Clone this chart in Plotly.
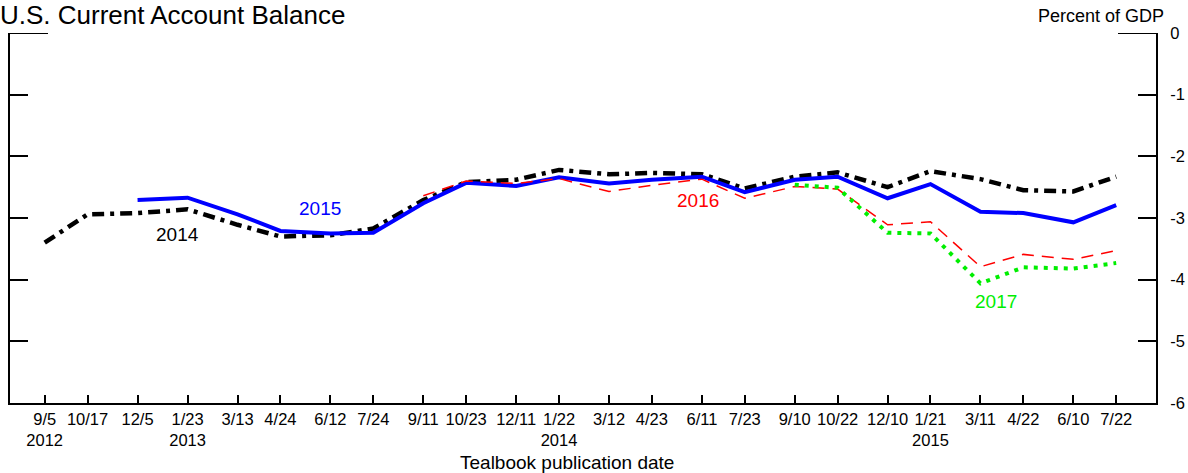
import plotly.graph_objects as go

# Tealbook publication dates
dates = ["2012-09-05", "2012-10-17", "2012-12-05", "2013-01-23", "2013-03-13", "2013-04-24",
         "2013-06-12", "2013-07-24", "2013-09-11", "2013-10-23", "2013-12-11", "2014-01-22",
         "2014-03-12", "2014-04-23", "2014-06-11", "2014-07-23", "2014-09-10", "2014-10-22",
         "2014-12-10", "2015-01-21", "2015-03-11", "2015-04-22", "2015-06-10", "2015-07-22"]
tick_labels = ["9/5<br>2012", "10/17", "12/5", "1/23<br>2013", "3/13", "4/24", "6/12", "7/24",
               "9/11", "10/23", "12/11", "1/22<br>2014", "3/12", "4/23", "6/11", "7/23",
               "9/10", "10/22", "12/10", "1/21<br>2015", "3/11", "4/22", "6/10", "7/22"]

# Projections of current account balance (percent of GDP) for each year
y2014 = [-3.40, -2.94, -2.92, -2.86, -3.11, -3.30, -3.28, -3.17, -2.71, -2.42, -2.38, -2.22,
         -2.29, -2.27, -2.29, -2.52, -2.33, -2.26, -2.50, -2.24, -2.37, -2.55, -2.57, -2.33]
y2015 = [-2.71, -2.67, -2.94, -3.21, -3.25, -3.24, -2.76, -2.43, -2.48, -2.34, -2.44,
         -2.38, -2.33, -2.58, -2.38, -2.33, -2.68, -2.45, -2.90, -2.92, -3.07, -2.79]
y2016 = [-2.64, -2.40, -2.44, -2.36, -2.57, -2.47, -2.37, -2.68, -2.49, -2.53, -3.11,
         -3.06, -3.79, -3.59, -3.67, -3.53]
y2017 = [-2.46, -2.51, -3.24, -3.25, -4.06, -3.80, -3.82, -3.73]

y_ticks = [0, -1, -2, -3, -4, -5, -6]
y_tick_text = ["0", "-1", "-2", "-3", "-4", "-5", "-6"]

FONT = "Liberation Sans, Arial, sans-serif"

fig = go.Figure()
fig.add_trace(go.Scatter(x=dates, y=y2014, mode="lines",
                         line=dict(color="black", width=4.5, dash="12px,6px,4px,6px")))
fig.add_trace(go.Scatter(x=dates[2:], y=y2015, mode="lines",
                         line=dict(color="#0000ff", width=4)))
fig.add_trace(go.Scatter(x=dates[8:], y=y2016, mode="lines",
                         line=dict(color="#ff0000", width=1.5, dash="12px,8px")))
fig.add_trace(go.Scatter(x=dates[16:], y=y2017, mode="lines",
                         line=dict(color="#00ee00", width=4, dash="4px,6px")))

labels = [("2014", "2013-01-13", -3.26, "black"),
          ("2015", "2013-06-02", -2.85, "#0000ff"),
          ("2016", "2014-06-07", -2.72, "#ff0000"),
          ("2017", "2015-03-26", -4.36, "#00ee00")]
for txt, x, y, c in labels:
    fig.add_annotation(x=x, y=y, text=txt, showarrow=False,
                       font=dict(family=FONT, size=19, color=c))

fig.add_annotation(xref="paper", yref="paper", x=0, y=1, xanchor="left", yanchor="bottom",
                   xshift=-12, yshift=1, text="U.S. Current Account Balance", showarrow=False,
                   font=dict(family=FONT, size=26, color="black"))
fig.add_annotation(xref="paper", yref="paper", x=1, y=1, xanchor="right", yanchor="bottom",
                   xshift=10, yshift=5, text="Percent of GDP", showarrow=False,
                   font=dict(family=FONT, size=18, color="black"))
fig.add_annotation(xref="paper", yref="paper", x=(567 - 10) / 1146, y=0, xanchor="center",
                   yanchor="middle", yshift=-59, text="Tealbook publication date",
                   showarrow=False, font=dict(family=FONT, size=19, color="black"))

# longer tick marks at zero on both sides
fig.add_shape(type="line", xref="paper", yref="y", x0=0, x1=38 / 1146, y0=0, y1=0,
              line=dict(color="black", width=2))
fig.add_shape(type="line", xref="paper", yref="y", x0=1 - 38 / 1146, x1=1, y0=0, y1=0,
              line=dict(color="black", width=2))

fig.update_layout(
    width=1188, height=473,
    margin=dict(l=10, r=32, t=33, b=70),
    paper_bgcolor="white", plot_bgcolor="white",
    showlegend=False,
    font=dict(family=FONT, size=16.5, color="black"),
    xaxis=dict(type="date", range=["2012-08-02", "2015-08-30"], automargin=False,
               tickvals=dates, ticktext=tick_labels, tickangle=0,
               ticks="inside", ticklen=8, tickwidth=2, tickcolor="black",
               showline=True, linecolor="black", linewidth=2,
               showgrid=False, zeroline=False,
               tickfont=dict(family=FONT, size=16.5, color="black")),
    yaxis=dict(side="right", range=[-6, 0], tickvals=y_ticks, ticktext=y_tick_text,
               automargin=False,
               ticks="inside", ticklen=18, tickwidth=2, tickcolor="black",
               showline=True, linecolor="black", linewidth=2, mirror="ticks",
               showgrid=False, zeroline=False, ticklabelstandoff=9,
               tickfont=dict(family=FONT, size=16.5, color="black")),
)

fig.write_html("out.html", config={"displayModeBar": False},
               post_script="document.body.style.margin='0';document.body.style.overflow='hidden';")
